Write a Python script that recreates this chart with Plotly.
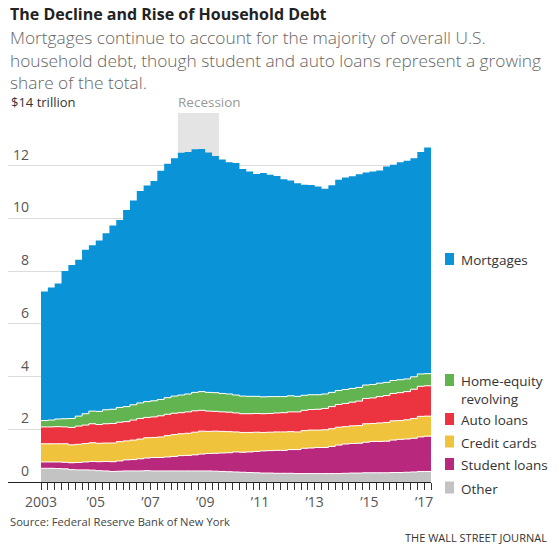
import plotly.graph_objects as go

# ---------------- data (trillions of dollars, quarterly 2003Q1 - 2017Q1) ----------------
quarters = [f"{y}Q{q}" for y in range(2003, 2018) for q in range(1, 5)][:57]

other = [0.52, 0.52, 0.51, 0.50, 0.47, 0.46, 0.46, 0.45, 0.43, 0.42, 0.40, 0.41,
         0.42, 0.42, 0.42, 0.43, 0.42, 0.42, 0.42, 0.42, 0.42, 0.42, 0.42, 0.42,
         0.42, 0.41, 0.40, 0.39, 0.38, 0.37, 0.36, 0.35, 0.34, 0.34, 0.33, 0.33,
         0.33, 0.32, 0.32, 0.32, 0.32, 0.32, 0.32, 0.32, 0.33, 0.34, 0.34, 0.35,
         0.35, 0.35, 0.35, 0.36, 0.36, 0.37, 0.38, 0.40, 0.40]
student_loans = [0.24, 0.24, 0.25, 0.25, 0.26, 0.28, 0.30, 0.33, 0.34, 0.36, 0.37, 0.39,
                 0.42, 0.43, 0.46, 0.48, 0.51, 0.51, 0.53, 0.55, 0.58, 0.59, 0.61, 0.64,
                 0.66, 0.68, 0.70, 0.72, 0.76, 0.76, 0.78, 0.81, 0.84, 0.85, 0.87, 0.87,
                 0.90, 0.91, 0.96, 0.97, 0.99, 0.99, 1.03, 1.08, 1.11, 1.12, 1.13, 1.16,
                 1.19, 1.19, 1.20, 1.23, 1.26, 1.26, 1.28, 1.31, 1.34]
credit_cards = [0.69, 0.69, 0.69, 0.70, 0.68, 0.69, 0.70, 0.71, 0.70, 0.70, 0.71, 0.73,
                0.72, 0.74, 0.75, 0.77, 0.76, 0.78, 0.81, 0.83, 0.83, 0.84, 0.86, 0.87,
                0.84, 0.84, 0.82, 0.80, 0.76, 0.75, 0.74, 0.73, 0.70, 0.70, 0.70, 0.70,
                0.68, 0.67, 0.67, 0.68, 0.66, 0.67, 0.67, 0.68, 0.66, 0.67, 0.67, 0.70,
                0.68, 0.70, 0.71, 0.73, 0.71, 0.73, 0.75, 0.78, 0.76]
auto_loans = [0.64, 0.64, 0.65, 0.64, 0.66, 0.69, 0.70, 0.72, 0.71, 0.73, 0.74, 0.74,
              0.73, 0.76, 0.78, 0.77, 0.78, 0.80, 0.81, 0.81, 0.80, 0.81, 0.81, 0.79,
              0.77, 0.75, 0.74, 0.74, 0.72, 0.71, 0.71, 0.71, 0.71, 0.71, 0.72, 0.73,
              0.75, 0.76, 0.77, 0.78, 0.79, 0.81, 0.84, 0.86, 0.88, 0.90, 0.93, 0.96,
              0.97, 1.00, 1.02, 1.04, 1.06, 1.07, 1.11, 1.14, 1.15]
home_equity = [0.24, 0.26, 0.29, 0.31, 0.34, 0.38, 0.43, 0.48, 0.50, 0.53, 0.54, 0.56,
               0.57, 0.58, 0.59, 0.60, 0.61, 0.62, 0.63, 0.65, 0.67, 0.68, 0.70, 0.71,
               0.71, 0.71, 0.70, 0.69, 0.68, 0.67, 0.66, 0.65, 0.64, 0.64, 0.62, 0.61,
               0.61, 0.59, 0.57, 0.56, 0.55, 0.55, 0.54, 0.53, 0.53, 0.52, 0.52, 0.51,
               0.51, 0.51, 0.50, 0.49, 0.49, 0.48, 0.47, 0.47, 0.46]
mortgages = [4.90, 5.03, 5.14, 5.61, 5.82, 5.93, 6.22, 6.29, 6.48, 6.70, 6.97, 7.11,
             7.46, 7.75, 8.04, 8.20, 8.34, 8.68, 8.87, 9.02, 9.19, 9.18, 9.22, 9.20,
             9.10, 8.98, 8.88, 8.79, 8.80, 8.62, 8.53, 8.44, 8.49, 8.42, 8.37, 8.25,
             8.17, 8.08, 7.99, 7.96, 7.90, 7.79, 7.86, 8.00, 8.04, 8.05, 8.09, 8.06,
             8.08, 8.07, 8.19, 8.19, 8.25, 8.28, 8.29, 8.42, 8.58]

series_names = ["Other", "Student loans", "Credit cards", "Auto loans",
                "Home-equity revolving", "Mortgages"]
series_values = [other, student_loans, credit_cards, auto_loans, home_equity, mortgages]
series_colors = ["#c3c3c3", "#b8287c", "#f0c33c", "#ec3340", "#62b450", "#0a93d6"]

y_ticks = [0, 2, 4, 6, 8, 10, 12, 14]
y_tick_labels = ["0", "2", "4", "6", "8", "10", "12", "$14 trillion"]
x_label_years = {2003: "2003", 2005: "\u201905", 2007: "\u201907", 2009: "\u201909",
                 2011: "\u201911", 2013: "\u201913", 2015: "\u201915", 2017: "\u201917"}
recession = (2008.0, 2009.5)

# ---------------- geometry helpers ----------------
W, H = 559, 553
L, R, T, B = 8, 431, 113, 482      # plot-area pixel box
PW, PH = R - L, B - T


def px(x):
    return (x - L) / PW


def py(y):
    return (B - y) / PH


FONT = "Open Sans"

# quarter positions (left edge of each quarter) + closing edge
n = len(quarters)
xs = [2003 + i / 4 for i in range(n)] + [2003 + n / 4]

fig = go.Figure()
for name, vals, col in zip(series_names, series_values, series_colors):
    fig.add_trace(go.Scatter(
        x=xs, y=vals + [vals[-1]], name=name, mode="lines",
        stackgroup="one", line=dict(shape="hv", color="white",
                                    width=0 if name == "Mortgages" else 1),
        fillcolor=col, hoverinfo="skip", showlegend=False))

# x ticks every quarter, labels on odd years
tickvals = [2003 + i / 4 for i in range(n + 1)]
ticktext = [x_label_years.get(int(v), "") if v == int(v) else "" for v in tickvals]

x_end = 2003 + n / 4
px_per_year = (R - 41) / (x_end - 2003)
x_start = 2003 - (41 - L) / px_per_year

fig.update_layout(
    width=W, height=H,
    margin=dict(l=L, r=W - R, t=T, b=H - B, pad=0, autoexpand=False),
    paper_bgcolor="white", plot_bgcolor="white",
    font=dict(family=FONT, color="#333"),
    xaxis=dict(range=[x_start, x_end], tickmode="array", tickvals=tickvals,
               ticktext=ticktext, ticks="outside", ticklen=7, tickcolor="#333",
               tickwidth=1, showline=True, linecolor="#222", linewidth=1,
               showgrid=False, zeroline=False, automargin=False,
               tickfont=dict(family=FONT, size=14, color="#555")),
    yaxis=dict(range=[0, 14], tickmode="array", tickvals=y_ticks,
               showticklabels=False, showgrid=True, gridcolor="#dcdcdc",
               gridwidth=1, zeroline=False, ticks="", automargin=False),
    showlegend=False,
)

fig.add_shape(type="rect", xref="x", yref="y", x0=recession[0], x1=recession[1],
              y0=0, y1=14, fillcolor="#e4e4e4", line=dict(width=0), layer="below")

ann = []
# y labels
for v, t in zip(y_ticks, y_tick_labels):
    if t.startswith("$"):
        ann.append(dict(x=px(9), y=v, xref="paper", yref="y", text=t, showarrow=False,
                        xanchor="left", yanchor="bottom", yshift=0,
                        font=dict(family=FONT, size=13, color="#333")))
    else:
        ann.append(dict(x=px(31), y=v, xref="paper", yref="y", text=t, showarrow=False,
                        xanchor="right", yanchor="bottom", yshift=0,
                        font=dict(family=FONT, size=14, color="#555")))
ann.append(dict(x=recession[0], y=14, xref="x", yref="y", text="Recession",
                showarrow=False, xanchor="left", yanchor="bottom", xshift=-2,
                font=dict(family=FONT, size=13.5, color="#999")))

# title & subtitle
ann.append(dict(x=px(8), y=py(14), xref="paper", yref="paper",
                text="<b>The Decline and Rise of Household Debt</b>", showarrow=False,
                xanchor="left", yanchor="middle",
                font=dict(family=FONT, size=16, color="#222")))
subtitle = ["Mortgages continue to account for the majority of overall U.S.",
            "household debt, though student and auto loans represent a growing",
            "share of the total."]
for i, line in enumerate(subtitle):
    ann.append(dict(x=px(8), y=py(38 + 22 * i), xref="paper", yref="paper", text=line,
                    showarrow=False, xanchor="left", yanchor="middle",
                    font=dict(family=FONT, size=17.3, color="#666", weight=300)))

# legend
legend_items = [("Mortgages", 259, "Mortgages"),
                ("Home-equity revolving", 380, "Home-equity<br>revolving"),
                ("Auto loans", 419, "Auto loans"),
                ("Credit cards", 441.5, "Credit cards"),
                ("Student loans", 464, "Student loans"),
                ("Other", 487.5, "Other")]
color_of = dict(zip(series_names, series_colors))
for name, yc, label in legend_items:
    fig.add_shape(type="rect", xref="paper", yref="paper", x0=px(445), x1=px(454),
                  y0=py(yc + 6), y1=py(yc - 6), fillcolor=color_of[name],
                  line=dict(width=0))
    ann.append(dict(x=px(459), y=py(yc - 10), xref="paper", yref="paper",
                    text=label, showarrow=False, xanchor="left", yanchor="top",
                    align="left",
                    font=dict(family=FONT, size=13.5, color="#333")))

# footer
ann.append(dict(x=px(8), y=py(521), xref="paper", yref="paper",
                text="Source: Federal Reserve Bank of New York", showarrow=False,
                xanchor="left", yanchor="middle",
                font=dict(family=FONT, size=11.2, color="#444")))
ann.append(dict(x=px(549), y=py(537), xref="paper", yref="paper",
                text="THE WALL STREET JOURNAL", showarrow=False,
                xanchor="right", yanchor="middle",
                font=dict(family=FONT, size=11, color="#333")))

fig.update_layout(annotations=ann)
fig.write_html("out.html", config={"displayModeBar": False},
               post_script="document.body.style.margin='0';")
